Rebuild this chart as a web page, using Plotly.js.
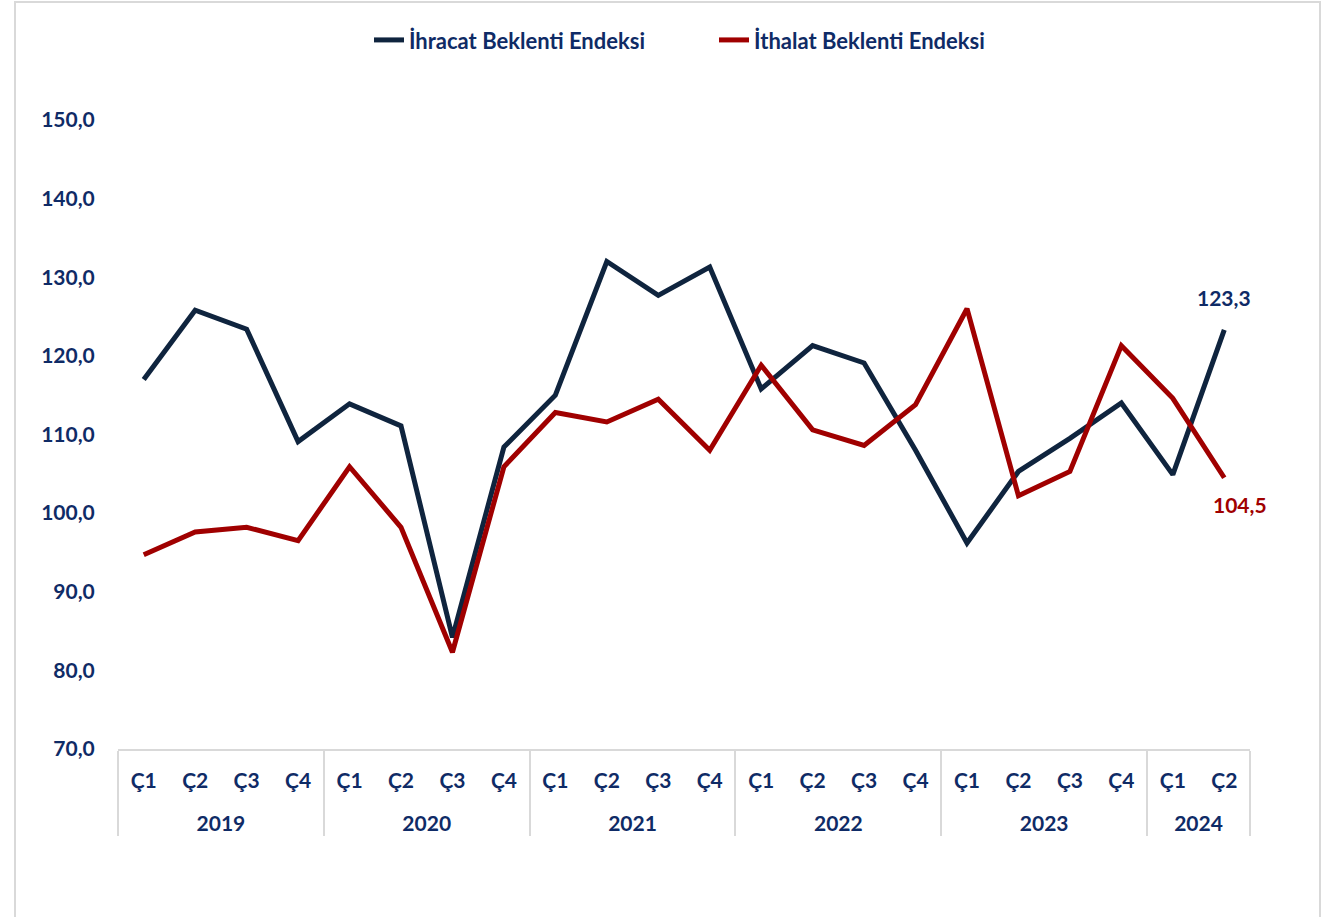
<!DOCTYPE html>
<html>
<head>
<meta charset="utf-8">
<script src="https://cdn.plot.ly/plotly-3.0.1.min.js"></script>
<style>
  html, body { margin: 0; padding: 0; background: #ffffff; }
  #frame { position: absolute; left: 14px; top: 1px; width: 1307px; height: 940px; border: 2px solid #d9d9d9; box-sizing: border-box; }
  #chart { position: absolute; left: 0; top: 0; width: 1325px; height: 917px; }
</style>
</head>
<body>
<div id="frame"></div>
<div id="chart"></div>
<script>
// --- Data ---
const yearLabels = ['2019','2019','2019','2019','2020','2020','2020','2020','2021','2021','2021','2021','2022','2022','2022','2022','2023','2023','2023','2023','2024','2024'];
const quarterLabels = ['Ç1','Ç2','Ç3','Ç4','Ç1','Ç2','Ç3','Ç4','Ç1','Ç2','Ç3','Ç4','Ç1','Ç2','Ç3','Ç4','Ç1','Ç2','Ç3','Ç4','Ç1','Ç2'];
const ihracat = [117.0,125.8,123.4,109.1, 113.9,111.1,84.2,108.4, 115.0,132.0,127.7,131.3, 115.8,121.3,119.1,108.0, 96.2,105.3,109.5,114.0, 104.9,123.3];
const ithalat = [94.7,97.6,98.2,96.5, 105.9,98.2,82.3,105.9, 112.8,111.6,114.5,108.0, 118.8,110.6,108.6,113.8, 126.0,102.2,105.3,121.3, 114.6,104.5];
const seriesNames = ['İhracat Beklenti Endeksi', 'İthalat Beklenti Endeksi'];

const navy = '#0f243e';
const red = '#a00000';
const textNavy = '#0f2b66';
const FONT = 'Lato, "Open Sans", sans-serif';

// outer level (years) gets a leading line break so it sits lower, like the reference table
const x = [yearLabels.map(y => '<br>' + y), quarterLabels];
const lastIdx = quarterLabels.length - 1;
const fmt = v => v.toFixed(1).replace('.', ',');

const traces = [
  { x: x, y: ihracat, type: 'scatter', mode: 'lines', name: seriesNames[0],
    line: { color: navy, width: 5 }, hoverinfo: 'y' },
  { x: x, y: ithalat, type: 'scatter', mode: 'lines', name: seriesNames[1],
    line: { color: red, width: 5 }, hoverinfo: 'y' }
];

const tf = { family: FONT, size: 21, color: textNavy, weight: 700 };

const layout = {
  width: 1325, height: 917,
  margin: { l: 118, r: 75, t: 120, b: 168 },
  paper_bgcolor: 'rgba(0,0,0,0)',
  plot_bgcolor: 'rgba(0,0,0,0)',
  separators: ',.',
  font: tf,
  showlegend: true,
  legend: {
    orientation: 'h', x: 0.5265, xanchor: 'center', y: 1.127, yanchor: 'middle',
    font: { family: FONT, size: 22, color: textNavy, weight: 700 },
    entrywidth: 300, entrywidthmode: 'pixels'
  },
  xaxis: {
    type: 'multicategory',
    showline: true, linecolor: '#d9d9d9', linewidth: 2,
    showgrid: false, zeroline: false,
    ticks: '', ticklabelstandoff: 12,
    showdividers: true, dividercolor: '#d9d9d9', dividerwidth: 2,
    tickfont: tf,
    range: [-0.5, lastIdx + 0.5]
  },
  yaxis: {
    range: [70, 150], dtick: 10, tick0: 70, tickformat: '.1f',
    showline: false, showgrid: false, zeroline: false,
    ticks: 'outside', ticklen: 18, tickcolor: 'rgba(0,0,0,0)',
    tickfont: tf
  },
  annotations: [
    { x: lastIdx, y: ihracat[lastIdx], xref: 'x', yref: 'y', text: fmt(ihracat[lastIdx]),
      showarrow: false, yshift: 32, font: tf },
    { x: lastIdx, y: ithalat[lastIdx], xref: 'x', yref: 'y', text: fmt(ithalat[lastIdx]),
      showarrow: false, yshift: -27, xshift: 16, font: Object.assign({}, tf, { color: red }) }
  ]
};

Plotly.newPlot('chart', traces, layout, { displayModeBar: false, responsive: false });
</script>
</body>
</html>
